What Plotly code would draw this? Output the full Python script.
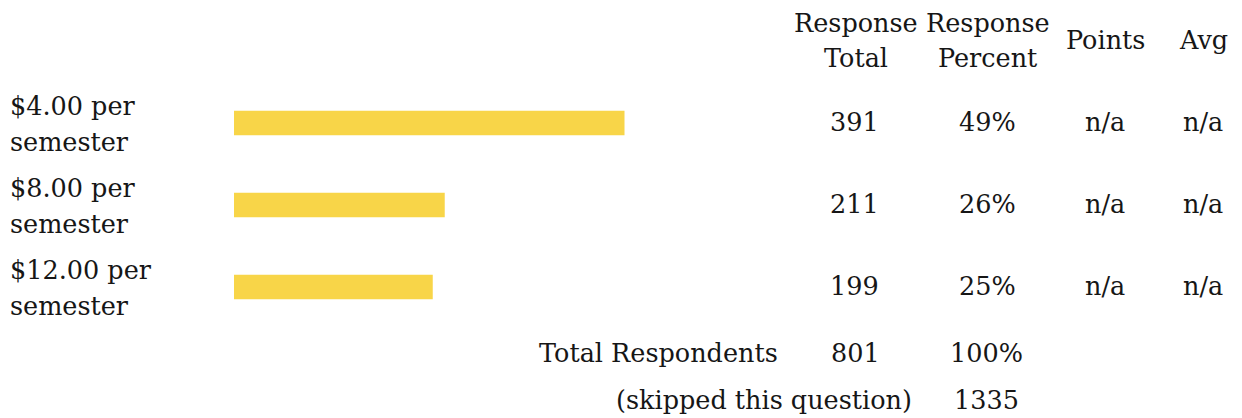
import plotly.graph_objects as go

# ---- data ----
categories = ["$4.00 per<br>semester", "$8.00 per<br>semester", "$12.00 per<br>semester"]
response_total = [391, 211, 199]
response_percent_labels = ["49%", "26%", "25%"]
points = ["n/a", "n/a", "n/a"]
avg = ["n/a", "n/a", "n/a"]
headers = ["Response<br>Total", "Response<br>Percent", "Points", "Avg"]
total_respondents = 801
total_percent_label = "100%"
skipped = 1335

OFF = 8  # page body margin
W, H = 1242 - OFF, 418 - OFF
FONT = "DejaVu Serif"
FS = 25.5
TXT = "#161616"
BAR = "rgb(248,213,72)"

pct = [v / total_respondents * 100 for v in response_total]
ypos = list(range(len(categories)))

fig = go.Figure()
fig.add_trace(go.Bar(
    x=pct, y=ypos, orientation="h", width=0.3,
    marker=dict(color=BAR, line=dict(width=0)),
    hoverinfo="skip",
))

# y mapping: row centers at window pixel 123 + 82*i
y0, step = 123.0 - OFF, 82.0
top = -y0 / step
bottom = (H - y0) / step

fig.update_layout(
    width=W, height=H,
    margin=dict(l=0, r=0, t=0, b=0),
    paper_bgcolor="white", plot_bgcolor="white",
    showlegend=False,
    xaxis=dict(domain=[(234 - OFF) / W, (634 - OFF) / W], range=[0, 50], visible=False, fixedrange=True),
    yaxis=dict(domain=[0, 1], range=[bottom, top], visible=False, fixedrange=True),
    font=dict(family=FONT, size=FS, color=TXT),
)

def px(x):
    return (x - OFF) / W

def py(y):
    return 1 - (y - OFF) / H

def ann(text, x, y, xanchor="center", yref="paper", yshift=0):
    fig.add_annotation(
        text=text, x=px(x), y=y if yref == "y" else py(y),
        xref="paper", yref=yref, xanchor=xanchor, yanchor="middle",
        showarrow=False, align="left" if xanchor == "left" else "center",
        yshift=yshift,
        font=dict(family=FONT, size=FS, color=TXT),
    )

# headers
header_x = [856, 988, 1105, 1203]
for h, hx in zip(headers, header_x):
    lines = h.split("<br>")
    if len(lines) == 2:
        ann(lines[0], hx, 23)
        ann(lines[1], hx, 58)
    else:
        ann(lines[0], hx, 40)

# rows
for i, cat in enumerate(categories):
    l1, l2 = cat.split("<br>")
    ann(l1, 8, ypos[i], xanchor="left", yref="y", yshift=17)
    ann(l2, 8, ypos[i], xanchor="left", yref="y", yshift=-19)
    ann(str(response_total[i]), 854, ypos[i], yref="y", yshift=1)
    ann(response_percent_labels[i], 987, ypos[i], yref="y", yshift=1)
    ann(points[i], 1105, ypos[i], yref="y", yshift=1)
    ann(avg[i], 1203, ypos[i], yref="y", yshift=1)

# totals
fig.add_annotation(text="Total Respondents", x=px(780), y=py(353), xref="paper", yref="paper",
                   xanchor="right", yanchor="middle", showarrow=False,
                   font=dict(family=FONT, size=FS, color=TXT))
ann(str(total_respondents), 855, 353)
ann(total_percent_label, 986, 353)
fig.add_annotation(text="(skipped this question)", x=px(914), y=py(400), xref="paper", yref="paper",
                   xanchor="right", yanchor="middle", showarrow=False,
                   font=dict(family=FONT, size=FS, color=TXT))
ann(str(skipped), 986, 400)

fig.write_html("out.html")
